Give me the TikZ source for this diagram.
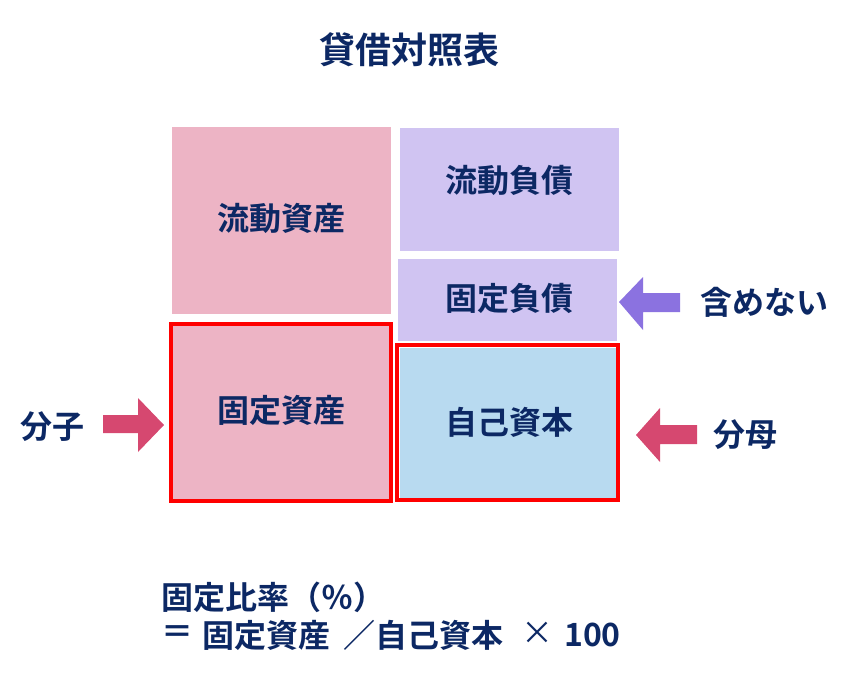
\documentclass[tikz,border=0pt]{standalone}
\usepackage{fontspec}
\newfontfamily\cjk{Noto Sans CJK JP}[BoldFont={Noto Sans CJK JP Bold}]
\definecolor{navy}{RGB}{12,40,100}
\definecolor{pinkfill}{RGB}{237,180,197}
\definecolor{lavfill}{RGB}{208,196,242}
\definecolor{bluefill}{RGB}{184,218,240}
\definecolor{pinkarrow}{RGB}{214,72,112}
\definecolor{purparrow}{RGB}{139,114,224}
\definecolor{redline}{RGB}{255,0,0}
\tikzset{
  lbl/.style={font=\cjk\bfseries\fontsize{32}{38}\selectfont, text=navy, inner sep=0pt},
  redframe/.style={draw=redline, line width=4pt}
}
\begin{document}
\begin{tikzpicture}[x=1pt,y=-1pt]
\useasboundingbox (0,0) rectangle (856,697);
% title
\node[lbl, font=\cjk\bfseries\fontsize{36}{42}\selectfont] (title) at (409,50) {貸借対照表};
% boxes
\fill[pinkfill] (172,127) rectangle (391,314);
\node[lbl] (ca) at (281,218) {流動資産};
\fill[lavfill] (400,128) rectangle (619,251);
\node[lbl] (cl) at (509,180) {流動負債};
\fill[lavfill] (398,259) rectangle (617,341);
\node[lbl] (fl) at (509,298) {固定負債};
\fill[pinkfill] (171,324) rectangle (391,501);
\draw[redframe] (171,324) rectangle (391,501);
\node[lbl] (fa) at (281,410) {固定資産};
\fill[bluefill] (400,348) rectangle (617,499);
\draw[redframe] (397,345) rectangle (618,500);
\node[lbl] (eq) at (509,422) {自己資本};
% arrows
\fill[pinkarrow] (103,415) -- (138,415) -- (138,398) -- (164,425) -- (138,452) -- (138,433) -- (103,433) -- cycle;
\node[lbl] (num) at (52,427) {分子};
\fill[purparrow] (680,293) -- (643,293) -- (643,277) -- (619,302) -- (643,330) -- (643,312) -- (680,312) -- cycle;
\node[lbl] (excl) at (764,302) {含めない};
\fill[pinkarrow] (697,425) -- (660,425) -- (660,408) -- (636,435) -- (660,462) -- (660,444) -- (697,444) -- cycle;
\node[lbl] (den) at (745,435) {分母};
% formula
\node[lbl, anchor=west] (f1) at (161,597) {固定比率（％）};
\node[lbl, anchor=west] (f2a) at (161,635) {＝};
\node[lbl, anchor=west] (f2b) at (202,635) {固定資産};
\node[lbl, anchor=west] (f2c) at (343,635) {／自己資本};
\node[lbl, font=\cjk\fontsize{32}{38}\selectfont] (f2d) at (537,633) {×};
\node[lbl, anchor=west] (f2e) at (564,635) {100};
\end{tikzpicture}
\end{document}
